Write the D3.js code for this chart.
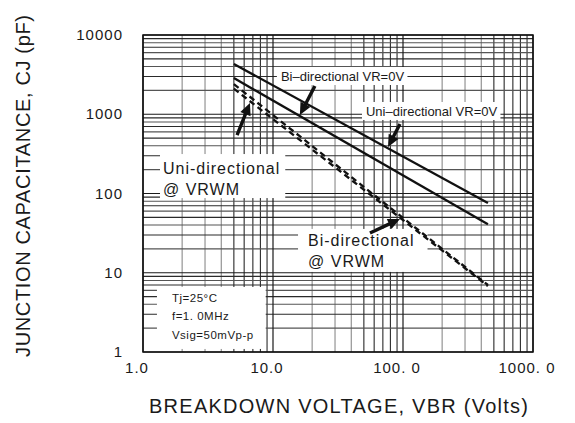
<!DOCTYPE html>
<html><head><meta charset="utf-8">
<script src="https://cdn.jsdelivr.net/npm/d3@7"></script>
<style>
body{margin:0;background:#fff}
text{font-family:"Liberation Sans",Arial,Helvetica,sans-serif;fill:#1a1a1a}
</style>
</head><body>
<svg id="c" width="575" height="423"></svg>
<script>
// ---- data ----
const xTickValues = [1, 10, 100, 1000];
const xTickLabels = ["1.0", "10.0", "100. 0", "1000. 0"];
const yTickValues = [1, 10, 100, 1000, 10000];
const yTickLabels = ["1", "10", "100", "1000", "10000"];
const voltage = [5.0, 450];          // VBR (Volts)
const biVR0   = [4300, 76];          // Bi-directional VR=0V (pF)
const uniVR0  = [2860, 41];          // Uni-directional VR=0V (pF)
const uniVRWM = [2400, 7.0];         // Uni-directional @ VRWM (pF)
const biVRWM  = [2100, 6.8];         // Bi-directional @ VRWM (pF)
const conditions = ["Tj=25°C", "f=1. 0MHz", "Vsig=50mVp-p"];

// ---- layout ----
const svg = d3.select("#c");
const L = 143, R = 533, T = 35, B = 352;
const x = d3.scaleLog().domain([1, 1000]).range([L, R]);
const y = d3.scaleLog().domain([1, 10000]).range([B, T]);

// grid
const gGrid = svg.append("g");
const minorX = [], minorY = [];
[1, 10, 100].forEach(d => { for (let k = 2; k <= 9; k++) minorX.push({v: d * k, k}); });
[1, 10, 100, 1000].forEach(d => { for (let k = 2; k <= 9; k++) minorY.push({v: d * k, k}); });
gGrid.selectAll(".vx").data(minorX).join("line")
  .attr("x1", d => x(d.v)).attr("x2", d => x(d.v)).attr("y1", T).attr("y2", B)
  .attr("stroke", d => d.k <= 4 ? "#8a8a8a" : "#2a2a2a").attr("stroke-width", 1.1);
gGrid.selectAll(".hy").data(minorY).join("line")
  .attr("y1", d => y(d.v)).attr("y2", d => y(d.v)).attr("x1", L).attr("x2", R)
  .attr("stroke", d => (d.k % 2 === 0) ? "#555" : "#2a2a2a").attr("stroke-width", 1.1);
gGrid.selectAll(".mx").data(xTickValues).join("line")
  .attr("x1", d => x(d)).attr("x2", d => x(d)).attr("y1", T).attr("y2", B)
  .attr("stroke", "#1a1a1a").attr("stroke-width", 1.2);
gGrid.selectAll(".my").data(yTickValues).join("line")
  .attr("y1", d => y(d)).attr("y2", d => y(d)).attr("x1", L).attr("x2", R)
  .attr("stroke", "#1a1a1a").attr("stroke-width", 1.2);

// label boxes (white, covering grid)
const gBox = svg.append("g");
const gLab = svg.append("g");
function label(lines, v, c, size, ls, pad, lh) {
  const t = gLab.append("text").attr("x", x(v)).attr("y", y(c))
    .attr("font-size", size).attr("letter-spacing", ls);
  lines.forEach((s, i) => t.append("tspan").attr("x", x(v)).attr("dy", i === 0 ? 0 : lh).text(s));
  const bb = t.node().getBBox();
  gBox.append("rect").attr("x", bb.x - pad[0]).attr("y", bb.y - pad[1])
    .attr("width", bb.width + pad[0] + pad[2]).attr("height", bb.height + pad[1] + pad[3])
    .attr("fill", "#fff");
}
label(["Bi\u2013directional  VR=0V"], 11.5, 2628, 13, 0, [4, 2, 3, 1], 0);
label(["Uni\u2013directional  VR=0V"], 51.9, 951, 13, 0, [4, 2, 3, 1], 0);
label(["Uni-directional", "@ VRWM"], 1.425, 176, 16, 1, [3, 6, 5, 0], 21);
label(["Bi-directional", "@ VRWM"], 18.6, 21.8, 16, 1, [10, 3, 13, 2], 21);
label(conditions, 1.67, 4.28, 11.5, 0.5, [15, 5, 12, 8], 18.5);

// data lines
const lineGen = d3.line().x(d => x(d[0])).y(d => y(d[1]));
const series = [
  {c: biVR0, dash: null},
  {c: uniVR0, dash: null},
  {c: uniVRWM, dash: "6,4"},
  {c: biVRWM, dash: "6,4"}
];
svg.append("g").selectAll("path").data(series).join("path")
  .attr("d", s => lineGen(voltage.map((v, i) => [v, s.c[i]])))
  .attr("fill", "none").attr("stroke", "#111").attr("stroke-width", 2.3)
  .attr("stroke-dasharray", s => s.dash);

// arrows (tail -> head) in data coordinates
const arrows = [
  [[21.0, 2272], [16.1, 978]],
  [[94.8, 753], [76.7, 386]],
  [[5.29, 547], [6.65, 1387]],
  [[55.7, 31.7], [94.8, 47.7]]
];
const gA = svg.append("g");
arrows.forEach(a => {
  const x1 = x(a[0][0]), y1 = y(a[0][1]), x2 = x(a[1][0]), y2 = y(a[1][1]);
  const ang = Math.atan2(y2 - y1, x2 - x1), hl = 12, hw = 5.5;
  const bx = x2 - hl * Math.cos(ang), by = y2 - hl * Math.sin(ang);
  gA.append("line").attr("x1", x1).attr("y1", y1).attr("x2", bx + 1 * Math.cos(ang)).attr("y2", by + 1 * Math.sin(ang))
    .attr("stroke", "#111").attr("stroke-width", 3.4);
  const px = -Math.sin(ang) * hw, py = Math.cos(ang) * hw;
  gA.append("path").attr("d", `M${x2},${y2}L${bx + px},${by + py}L${bx - px},${by - py}Z`).attr("fill", "#111");
});

// frame
svg.append("rect").attr("x", L).attr("y", T).attr("width", R - L).attr("height", B - T)
  .attr("fill", "none").attr("stroke", "#111").attr("stroke-width", 1.5);

// tick labels
svg.append("g").selectAll("text").data(xTickValues).join("text")
  .attr("x", d => x(d) - 6).attr("y", 373).attr("text-anchor", "middle")
  .attr("font-size", 15).attr("letter-spacing", 1).text((d, i) => xTickLabels[i]);
svg.append("g").selectAll("text").data(yTickValues).join("text")
  .attr("x", 123).attr("y", d => y(d) + 5).attr("text-anchor", "end")
  .attr("font-size", 15).attr("letter-spacing", 1).text((d, i) => yTickLabels[i]);

// axis titles
svg.append("text").attr("x", 149).attr("y", 413).attr("font-size", 20)
  .attr("textLength", 379).attr("lengthAdjust", "spacing")
  .text("BREAKDOWN VOLTAGE, VBR (Volts)");
svg.append("text").attr("transform", "translate(30,357) rotate(-90)").attr("font-size", 20)
  .attr("textLength", 342).attr("lengthAdjust", "spacing")
  .text("JUNCTION CAPACITANCE, CJ (pF)");
</script>
</body></html>
